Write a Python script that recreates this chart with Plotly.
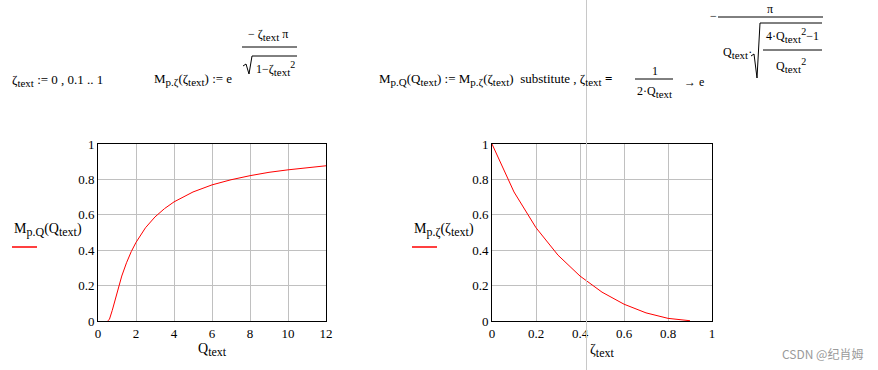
import plotly.graph_objects as go

W, H = 878, 370

# ---- data ----
q_vals = [0.5, 0.6, 0.75, 0.9, 1.0, 1.1, 1.25, 1.5, 1.75, 2.0, 2.5, 3.0, 3.5, 4.0, 5.0, 6.0, 7.0, 8.0, 9.0, 10.0, 11.0, 12.0]
mp_q = [0.0, 0.009, 0.06, 0.123, 0.163, 0.201, 0.254, 0.329, 0.392, 0.444, 0.527, 0.588, 0.635, 0.673, 0.729, 0.769, 0.798, 0.821, 0.840, 0.854, 0.867, 0.877]

zeta_vals = [0.0, 0.1, 0.2, 0.3, 0.4, 0.5, 0.6, 0.7, 0.8, 0.9]
mp_zeta = [1.0, 0.729, 0.527, 0.372, 0.254, 0.163, 0.095, 0.046, 0.015, 0.0015]

x_ticks_q = [0, 2, 4, 6, 8, 10, 12]
x_ticks_z = [0, 0.2, 0.4, 0.6, 0.8, 1]
y_ticks = [0, 0.2, 0.4, 0.6, 0.8, 1]


def px(x):
    return x / W


def py(y):
    return 1 - y / H


SERIF = "Liberation Serif"
fig = go.Figure()

fig.add_trace(go.Scatter(x=q_vals, y=mp_q, mode="lines", line=dict(color="#ff0000", width=1),
                         xaxis="x", yaxis="y", showlegend=False, hoverinfo="skip"))
fig.add_trace(go.Scatter(x=zeta_vals, y=mp_zeta, mode="lines", line=dict(color="#ff0000", width=1),
                         xaxis="x2", yaxis="y2", showlegend=False, hoverinfo="skip"))

ax_common = dict(showline=True, linecolor="black", linewidth=1, mirror=True, automargin=False,
                 showgrid=True, gridcolor="#c0c0c0", gridwidth=1, zeroline=False,
                 ticks="", tickfont=dict(family=SERIF, size=13, color="black"), fixedrange=True)

ydom = [py(321), py(144)]
fig.update_layout(
    width=W, height=H, margin=dict(l=0, r=0, t=0, b=0),
    paper_bgcolor="white", plot_bgcolor="white",
    xaxis=dict(domain=[px(98), px(326)], range=[0, 12], tickvals=x_ticks_q, anchor="y", **ax_common),
    yaxis=dict(domain=ydom, range=[0, 1], tickvals=y_ticks, anchor="x", **ax_common),
    xaxis2=dict(domain=[px(492), px(712)], range=[0, 1], tickvals=x_ticks_z, anchor="y2", **ax_common),
    yaxis2=dict(domain=ydom, range=[0, 1], tickvals=y_ticks, anchor="x2", **ax_common),
)


def sb(t, size=11):
    return f'<sub><span style="font-size:{size}px">{t}</span></sub>'


def sp(t, size=10):
    return f'<sup><span style="font-size:{size}px">{t}</span></sup>'


ann = []


def text(x, y, s, size=13, anchor="left"):
    ann.append(dict(x=px(x), y=py(y), xref="paper", yref="paper", text=s, showarrow=False,
                    xanchor=anchor, yanchor="middle", font=dict(family=SERIF, size=size, color="black")))


shapes = []


def line(x0, y0, x1, y1, color="black", width=1):
    shapes.append(dict(type="line", xref="paper", yref="paper", x0=px(x0), y0=py(y0), x1=px(x1), y1=py(y1),
                       line=dict(color=color, width=width)))


def path(points, color="black", width=1):
    d = "M " + " L ".join(f"{px(a)},{py(b)}" for a, b in points)
    shapes.append(dict(type="path", xref="paper", yref="paper", path=d, line=dict(color=color, width=width)))


# axis labels
text(12, 230, "M" + sb("p.Q", 12) + "(Q" + sb("text", 12) + ")", 14)
line(12, 247, 37, 247, color="#ff0000", width=1.5)
text(412, 230, "M" + sb("p.ζ", 12) + "(ζ" + sb("text", 12) + ")", 14)
line(412, 247, 437, 247, color="#ff0000", width=1.5)
text(212, 350, "Q" + sb("text", 12), 14, anchor="center")
text(602, 351, "ζ" + sb("text", 12), 14, anchor="center")

# top-left definitions
text(10, 80, "ζ" + sb("text") + " := 0 , 0.1 .. 1", 13)
text(152, 80, "M" + sb("p.ζ") + "(ζ" + sb("text") + ") := e", 13)
text(246, 35, "− ζ" + sb("text") + " π", 12)
line(242, 47, 297, 47)
text(254, 68, "1−ζ" + sb("text") + sp("2"), 12)
path([(243, 66), (246, 64), (249, 74), (252, 56), (297, 56)])

# right definition
text(377, 80, "M" + sb("p.Q") + "(Q" + sb("text") + ") := M" + sb("p.ζ") + "(ζ" + sb("text") +
     ")  substitute , ζ" + sb("text") + " <b>=</b>", 13)
text(655, 71, "1", 12, anchor="center")
line(635, 79, 673, 79)
text(654, 92, "2·Q" + sb("text"), 12, anchor="center")
text(682, 82, "→ e", 12)
text(713, 16, "−", 12, anchor="center")
line(718, 17, 823, 17)
text(770, 9, "π", 12, anchor="center")
text(721, 53, "Q" + sb("text") + "·", 12)
path([(751, 56), (754, 54), (757, 78), (760, 23), (822, 23)])
text(792, 35, "4·Q" + sb("text") + sp("2") + "−1", 12, anchor="center")
line(763, 50, 822, 50)
text(791, 66, "Q" + sb("text") + sp("2"), 12, anchor="center")

# cursor line
line(586.5, 0, 586.5, 370, color="#c8c8c8", width=1)

# watermark
ann.append(dict(x=px(865), y=py(353), xref="paper", yref="paper", text="CSDN @纪肖姆", showarrow=False,
                xanchor="right", yanchor="middle",
                font=dict(family="Noto Sans CJK SC", size=12, color="#9a9a9a")))

fig.update_layout(annotations=ann, shapes=shapes)
fig.write_html("out.html", config={"displayModeBar": False},
               post_script="document.body.style.margin='0';")
